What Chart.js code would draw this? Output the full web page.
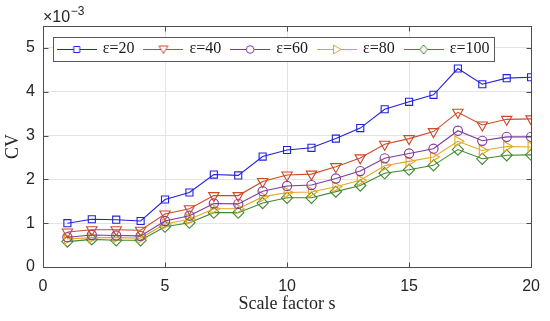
<!DOCTYPE html>
<html><head><meta charset="utf-8">
<script src="https://cdn.jsdelivr.net/npm/chart.js@4/dist/chart.umd.min.js"></script>
<style>html,body{margin:0;padding:0;background:#fff;}#wrap{width:550px;height:321px;}</style>
</head><body><div id="wrap"><canvas id="c" width="550" height="321"></canvas></div>
<script>
// ---- data (CV values in units of 10^-3) ----
const scaleFactors = [1,2,3,4,5,6,7,8,9,10,11,12,13,14,15,16,17,18,19,20];
const cvEps20  = [1.00,1.09,1.08,1.05,1.54,1.70,2.11,2.09,2.52,2.67,2.72,2.93,3.17,3.60,3.77,3.93,4.53,4.17,4.31,4.33];
const cvEps40  = [0.80,0.85,0.85,0.84,1.21,1.33,1.63,1.63,1.95,2.10,2.12,2.29,2.49,2.80,2.93,3.09,3.53,3.24,3.37,3.38];
const cvEps60  = [0.68,0.73,0.72,0.71,1.05,1.17,1.45,1.44,1.73,1.85,1.87,2.02,2.19,2.48,2.59,2.70,3.11,2.88,2.97,2.97];
const cvEps80  = [0.64,0.67,0.67,0.66,0.98,1.09,1.33,1.33,1.60,1.70,1.71,1.83,1.98,2.31,2.41,2.51,2.87,2.66,2.75,2.74];
const cvEps100 = [0.58,0.63,0.61,0.61,0.92,1.01,1.24,1.24,1.46,1.58,1.58,1.72,1.86,2.14,2.22,2.32,2.68,2.47,2.55,2.56];
const seriesLabels = ['ε=20','ε=40','ε=60','ε=80','ε=100'];
const xTickValues = [0,5,10,15,20];
const yTickValues = [0,1,2,3,4,5];
const xAxisTitle = 'Scale factor s';
const yAxisTitle = 'CV';
const exponentBase = '×10';
const exponentPower = '−3';

// ---- styles ----
const SERIF = "'Liberation Serif', 'Times New Roman', serif";
const SANS = "'Liberation Sans', Arial, sans-serif";
const seriesValues = [cvEps20, cvEps40, cvEps60, cvEps80, cvEps100];
const seriesColors = ['#2222dd','#cc4a28','#7d3a9e','#e3a722','#3e8a2e'];
const seriesMarkers = [
  {style:'rect', rot:0, r:5},
  {style:'triangle', rot:180, r:6},
  {style:'circle', rot:0, r:4.6},
  {style:'triangle', rot:90, r:6},
  {style:'rectRot', rot:0, r:5.6}
];

function makeIcon(color, m) {
  const cv = document.createElement('canvas');
  cv.width = 40; cv.height = 14;
  const g = cv.getContext('2d');
  g.strokeStyle = color; g.lineWidth = 1;
  g.beginPath(); g.moveTo(0, 7.5); g.lineTo(40, 7.5); g.stroke();
  const cx = 20, cy = 7.5;
  g.beginPath();
  if (m.style === 'rect') {
    g.rect(cx - 3, cy - 3, 6, 6);
  } else if (m.style === 'circle') {
    g.arc(cx, cy, 3.8, 0, Math.PI * 2);
  } else if (m.style === 'rectRot') {
    g.moveTo(cx, cy - 4.5); g.lineTo(cx + 3.8, cy); g.lineTo(cx, cy + 4.5); g.lineTo(cx - 3.8, cy); g.closePath();
  } else if (m.rot === 180) {
    g.moveTo(cx - 4.5, cy - 3.5); g.lineTo(cx + 4.5, cy - 3.5); g.lineTo(cx, cy + 4); g.closePath();
  } else {
    g.moveTo(cx - 3.5, cy - 4.5); g.lineTo(cx + 4, cy); g.lineTo(cx - 3.5, cy + 4.5); g.closePath();
  }
  g.fillStyle = '#fff'; g.fill(); g.stroke();
  return cv;
}
const legendIcons = seriesColors.map((c, i) => makeIcon(c, seriesMarkers[i]));

const datasets = seriesValues.map((vals, i) => ({
  label: seriesLabels[i],
  data: scaleFactors.map((x, j) => ({x: x, y: vals[j]})),
  borderColor: seriesColors[i],
  borderWidth: 1.1,
  pointStyle: seriesMarkers[i].style,
  rotation: seriesMarkers[i].rot,
  pointRadius: seriesMarkers[i].r,
  pointBorderWidth: 1.1,
  pointBorderColor: seriesColors[i],
  pointBackgroundColor: 'rgba(255,255,255,0)',
  tension: 0,
  fill: false
}));

const LEG_PAD = 11;
const framePlugin = {
  id: 'frameAndLegend',
  beforeLayout(chart) {
    const i = chart.boxes.indexOf(chart.legend);
    if (i >= 0) chart.boxes.splice(i, 1);
  },
  afterLayout(chart) {
    const lg = chart.legend;
    if (!lg) return;
    lg.update(480, 100, {left: 0, top: 0, right: 0, bottom: 0});
    lg.left = 47.7; lg.top = 49 - 8 - LEG_PAD;
    lg.right = lg.left + lg.width; lg.bottom = lg.top + lg.height;
  },
  afterDatasetsDraw(chart) {
    const ctx = chart.ctx;
    const {left, right, top, bottom} = chart.chartArea;
    const xs = chart.scales.x, ys = chart.scales.y;
    const L = Math.round(left) + 0.5, R = Math.round(right) + 0.5;
    const T = Math.round(top) + 0.5, B = Math.round(bottom) + 0.5;
    ctx.save();
    ctx.strokeStyle = '#4d4d4d'; ctx.lineWidth = 1;
    ctx.strokeRect(L, T, R - L, B - T);
    ctx.beginPath();
    xTickValues.forEach(v => {
      const px = Math.round(xs.getPixelForValue(v)) + 0.5;
      ctx.moveTo(px, B); ctx.lineTo(px, B - 5);
      ctx.moveTo(px, T); ctx.lineTo(px, T + 5);
    });
    yTickValues.forEach(v => {
      const py = Math.round(ys.getPixelForValue(v)) + 0.5;
      ctx.moveTo(L, py); ctx.lineTo(L + 5, py);
      ctx.moveTo(R, py); ctx.lineTo(R - 5, py);
    });
    ctx.stroke();
    ctx.restore();
  },
  afterDraw(chart) {
    const ctx = chart.ctx;
    const lg = chart.legend;
    if (lg && lg.legendHitBoxes && lg.legendHitBoxes.length) {
      const hb = lg.legendHitBoxes;
      let x0 = Infinity, x1 = -Infinity;
      hb.forEach(h => { x0 = Math.min(x0, h.left); x1 = Math.max(x1, h.left + h.width); });
      const cy = lg.top + LEG_PAD + 8;
      const bx0 = Math.round(x0 - 2 - 4) + 0.5, bx1 = Math.round(x1 + 5) + 0.5;
      const by0 = Math.round(cy - 12) + 0.5, by1 = Math.round(cy + 12) + 0.5;
      ctx.save();
      ctx.fillStyle = '#fff';
      ctx.fillRect(bx0, by0, bx1 - bx0, by1 - by0);
      ctx.strokeStyle = '#5a5a5a'; ctx.lineWidth = 1;
      ctx.strokeRect(bx0, by0, bx1 - bx0, by1 - by0);
      ctx.restore();
      lg.draw();
    }
    // exponent label
    ctx.save();
    ctx.fillStyle = '#262626';
    ctx.textBaseline = 'alphabetic';
    ctx.font = '16px ' + SANS;
    ctx.fillText(exponentBase, 43, 22);
    const w = ctx.measureText(exponentBase).width;
    ctx.font = '12px ' + SANS;
    ctx.fillText(exponentPower, 43 + w + 0.5, 15);
    ctx.restore();
  }
};

new Chart(document.getElementById('c'), {
  type: 'line',
  data: {datasets: datasets},
  options: {
    responsive: false,
    devicePixelRatio: 1,
    animation: false,
    layout: {padding: {left: 0, right: 13, top: 26, bottom: 0}},
    plugins: {
      tooltip: {enabled: false},
      title: {display: false},
      legend: {
        display: true,
        position: 'top',
        align: 'start',
        labels: {
          usePointStyle: true,
          pointStyleWidth: 36,
          padding: LEG_PAD,
          color: '#1a1a1a',
          font: {family: SERIF, size: 16},
          generateLabels: (chart) => chart.data.datasets.map((ds, i) => ({
            text: ds.label,
            pointStyle: legendIcons[i],
            fillStyle: 'rgba(0,0,0,0)',
            strokeStyle: 'rgba(0,0,0,0)',
            fontColor: '#1a1a1a',
            lineWidth: 0,
            hidden: false,
            datasetIndex: i
          }))
        }
      }
    },
    scales: {
      x: {
        type: 'linear',
        min: 0, max: 20,
        afterBuildTicks: (s) => { s.ticks = xTickValues.map(v => ({value: v})); },
        afterFit: (s) => { s.height = 54; },
        grid: {color: '#e4e4e4', lineWidth: 1, drawTicks: false},
        border: {display: false},
        ticks: {
          padding: 10,
          color: '#262626',
          maxRotation: 0,
          font: {family: SANS, size: 16}
        },
        title: {
          display: true, text: xAxisTitle, color: '#262626',
          padding: {top: 0, bottom: 6},
          font: {family: SERIF, size: 18}
        }
      },
      y: {
        type: 'linear',
        min: 0, max: 5.5,
        afterBuildTicks: (s) => { s.ticks = yTickValues.map(v => ({value: v})); },
        afterFit: (s) => { s.width = 43; },
        grid: {color: '#e4e4e4', lineWidth: 1, drawTicks: false},
        border: {display: false},
        ticks: {
          padding: 8,
          color: '#262626',
          font: {family: SANS, size: 16}
        },
        title: {
          display: true, text: yAxisTitle, color: '#262626',
          padding: {top: 2, bottom: 0},
          font: {family: SERIF, size: 18}
        }
      }
    }
  },
  plugins: [framePlugin]
});
</script>
</body></html>
